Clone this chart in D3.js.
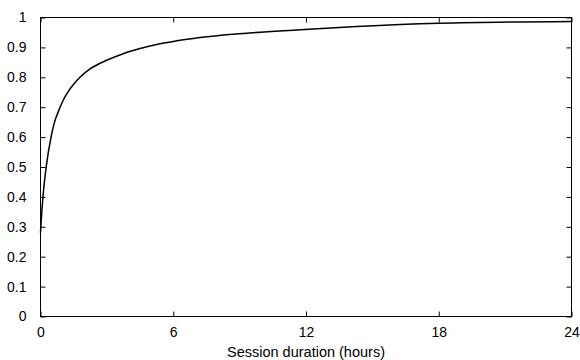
<!DOCTYPE html>
<html>
<head>
<meta charset="utf-8">
<script src="https://cdn.jsdelivr.net/npm/d3@7"></script>
<style>
  body { margin: 0; background: #fff; }
  svg { display: block; font-family: "Liberation Sans", Arial, sans-serif; }
</style>
</head>
<body>
<div id="chart"></div>
<script>
// CDF of session duration
const hours = [0, 0.03, 0.12, 0.27, 0.5, 0.6, 0.87, 1.03, 1.25, 1.48, 1.78, 2.24, 2.99, 3.74, 4.5, 5.25, 6.16, 8.73, 11.74, 14.3, 18, 24];
const cdf = [0.28, 0.318, 0.407, 0.507, 0.608, 0.641, 0.697, 0.724, 0.752, 0.775, 0.8, 0.828, 0.857, 0.879, 0.896, 0.91, 0.922, 0.944, 0.959, 0.97, 0.981, 0.987];

const xTicks = [0, 6, 12, 18, 24];
const yTicks = [0, 0.1, 0.2, 0.3, 0.4, 0.5, 0.6, 0.7, 0.8, 0.9, 1];
const yTickLabels = ["0", "0.1", "0.2", "0.3", "0.4", "0.5", "0.6", "0.7", "0.8", "0.9", "1"];
const xTitle = "Session duration (hours)";

const width = 580;
const height = 360;

const x = d3.scaleLinear().domain([0, 24]).range([40.5, 571.5]);
const y = d3.scaleLinear().domain([0, 1]).range([316.5, 17.5]);

const svg = d3.select("#chart").append("svg")
  .attr("width", width)
  .attr("height", height);

// axes, ticks pointing inward
const styleAxis = (g) => {
  g.select(".domain").remove();
  g.selectAll("line").attr("stroke", "#000");
  g.selectAll("text").attr("fill", "#000").style("font-size", "14px");
};

svg.append("g")
  .attr("transform", `translate(0,${y(0)})`)
  .call(d3.axisBottom(x).tickValues(xTicks).tickSize(-5).tickPadding(11).tickFormat(d3.format("d")))
  .call(styleAxis);

svg.append("g")
  .attr("transform", `translate(0,${y(1)})`)
  .call(d3.axisTop(x).tickValues(xTicks).tickSize(-5).tickFormat(""))
  .call(styleAxis);

svg.append("g")
  .attr("transform", `translate(${x(0)},0)`)
  .call(d3.axisLeft(y).tickValues(yTicks).tickSize(-5).tickPadding(14)
    .tickFormat((d, i) => yTickLabels[i]))
  .call(styleAxis);

svg.append("g")
  .attr("transform", `translate(${x(24)},0)`)
  .call(d3.axisRight(y).tickValues(yTicks).tickSize(-5).tickFormat(""))
  .call(styleAxis);

// frame
svg.append("rect")
  .attr("x", x(0))
  .attr("y", y(1))
  .attr("width", x(24) - x(0))
  .attr("height", y(0) - y(1))
  .attr("fill", "none")
  .attr("stroke", "#000")
  .attr("stroke-width", 1);

// curve
const line = d3.line()
  .x((d, i) => x(hours[i]))
  .y((d) => y(d))
  .curve(d3.curveMonotoneX);

svg.append("path")
  .attr("d", line(cdf))
  .attr("fill", "none")
  .attr("stroke", "#000")
  .attr("stroke-width", 1.5);

// x title
svg.append("text")
  .attr("x", (x(0) + x(24)) / 2)
  .attr("y", 357)
  .attr("text-anchor", "middle")
  .style("font-size", "14.5px")
  .text(xTitle);
</script>
</body>
</html>
